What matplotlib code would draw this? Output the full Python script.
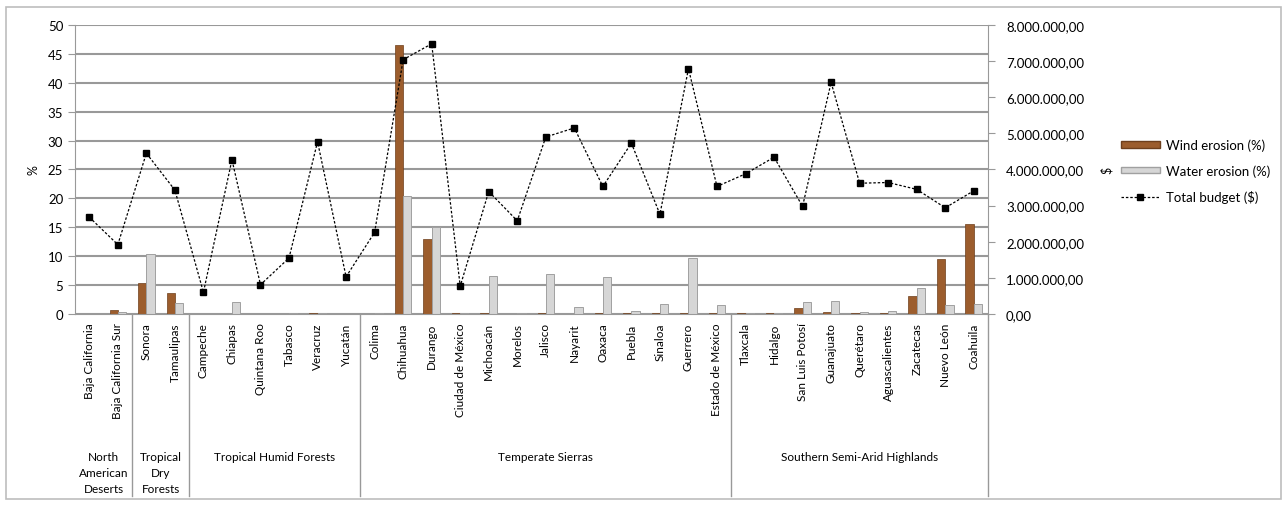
import matplotlib
matplotlib.use('Agg')
import matplotlib.pyplot as plt
from matplotlib.patches import Rectangle, Patch
from matplotlib.lines import Line2D
import numpy as np

plt.rcParams['font.family'] = ['Lato', 'DejaVu Sans']

states = ['Baja California', 'Baja California Sur', 'Sonora', 'Tamaulipas',
          'Campeche', 'Chiapas', 'Quintana Roo', 'Tabasco', 'Veracruz', 'Yucatán',
          'Colima', 'Chihuahua', 'Durango', 'Ciudad de México', 'Michoacán',
          'Morelos', 'Jalisco', 'Nayarit', 'Oaxaca', 'Puebla', 'Sinaloa',
          'Guerrero', 'Estado de México',
          'Tlaxcala', 'Hidalgo', 'San Luis Potosí', 'Guanajuato', 'Querétaro',
          'Aguascalientes', 'Zacatecas', 'Nuevo León', 'Coahuila']

wind = [0, 0.7, 5.3, 3.7,
        0, 0, 0, 0, 0.1, 0,
        0, 46.5, 13.0, 0.1, 0.1, 0, 0.1, 0, 0.1, 0.1, 0.1, 0.1, 0.2,
        0.1, 0.1, 1.0, 0.3, 0.1, 0.1, 3.1, 9.5, 15.5]

water = [0, 0.3, 10.3, 1.9,
         0, 2.1, 0, 0.1, 0.2, 0,
         0.1, 20.5, 15.0, 0.1, 6.6, 0.1, 6.9, 1.2, 6.4, 0.6, 1.8, 9.7, 1.6,
         0.1, 0.2, 2.0, 2.3, 0.4, 0.5, 4.5, 1.6, 1.8]

budget = [2.68e6, 1.92e6, 4.45e6, 3.43e6,
          0.60e6, 4.27e6, 0.81e6, 1.55e6, 4.77e6, 1.03e6,
          2.26e6, 7.04e6, 7.48e6, 0.77e6, 3.39e6, 2.58e6, 4.90e6, 5.15e6,
          3.53e6, 4.73e6, 2.76e6, 6.79e6, 3.53e6,
          3.88e6, 4.34e6, 2.98e6, 6.41e6, 3.62e6, 3.64e6, 3.45e6, 2.94e6, 3.41e6]

groups = ['North\nAmerican\nDeserts', 'Tropical\nDry\nForests', 'Tropical Humid Forests',
          'Temperate Sierras', 'Southern Semi-Arid Highlands']
group_sizes = [2, 2, 6, 13, 9]

right_ticks = [0, 1e6, 2e6, 3e6, 4e6, 5e6, 6e6, 7e6, 8e6]
right_labels = ['0,00', '1.000.000,00', '2.000.000,00', '3.000.000,00', '4.000.000,00',
                '5.000.000,00', '6.000.000,00', '7.000.000,00', '8.000.000,00']

fig = plt.figure(figsize=(12.87, 5.06), dpi=100)
fig.patches.append(Rectangle((0.005, 0.012), 0.99, 0.972, transform=fig.transFigure,
                             fill=False, edgecolor='#bdbdbd', linewidth=1.2))

ax = fig.add_axes([0.0583, 0.3775, 0.7094, 0.5711])
x = np.arange(len(states))
wind_col = '#9c5d2d'
water_col = '#d6d6d6'

ax.set_axisbelow(True)
ax.yaxis.grid(True, color='#999999', linewidth=1.5)
ax.bar(x - 0.145, wind, 0.29, color=wind_col, edgecolor='#6e3f1c', linewidth=0.5, zorder=2)
ax.bar(x + 0.145, water, 0.29, color=water_col, edgecolor='#a0a0a0', linewidth=0.7, zorder=2)
ax.set_xlim(-0.5, len(states) - 0.5)
ax.set_ylim(0, 50)
ax.set_yticks(range(0, 51, 5))
ax.set_xticks(x)
ax.set_xticklabels(states, rotation=90, fontsize=8.5)
ax.tick_params(axis='x', length=0, pad=6)
ax.tick_params(axis='y', labelsize=9.5, length=5, color='#999999')
ax.set_ylabel('%', fontsize=9, labelpad=6)
ax.spines['top'].set_visible(False)
ax.spines['right'].set_visible(False)
ax.spines['left'].set_color('#999999')
ax.spines['bottom'].set_color('#999999')

ax2 = ax.twinx()
ax2.plot(x, budget, color='black', linestyle=(0, (2, 1.5)), linewidth=0.9,
         marker='s', markersize=5, markerfacecolor='black', zorder=3)
ax2.set_ylim(0, 8e6)
ax2.set_yticks(right_ticks)
ax2.set_yticklabels(right_labels)
ax2.tick_params(axis='y', labelsize=9.5, length=5, color='#999999', pad=8)
ax2.set_ylabel('$', fontsize=9, labelpad=12)
ax2.spines['top'].set_visible(False)
ax2.spines['left'].set_visible(False)
ax2.spines['bottom'].set_visible(False)
ax2.spines['right'].set_color('#999999')

# group separators and labels under the state names
trans = ax.get_xaxis_transform()
start = 0
for i in range(len(groups)):
    end = start + group_sizes[i]
    if i > 0:
        ax.plot([start - 0.5, start - 0.5], [0, -0.63], transform=trans, clip_on=False,
                color='#999999', linewidth=1)
    ax.text((start + end - 1) / 2.0, -0.475, groups[i], transform=trans, ha='center', va='top',
            fontsize=8.5, linespacing=1.55)
    start = end
ax.plot([len(states) - 0.5, len(states) - 0.5], [0, -0.63], transform=trans, clip_on=False,
        color='#999999', linewidth=1)

handles = [Patch(facecolor=wind_col, edgecolor='#6e3f1c'),
           Patch(facecolor=water_col, edgecolor='#a0a0a0'),
           Line2D([0], [0], color='black', linestyle=(0, (2, 1.5)), linewidth=0.9,
                  marker='s', markersize=5)]
fig.legend(handles, ['Wind erosion (%)', 'Water erosion (%)', 'Total budget ($)'],
           loc='center left', bbox_to_anchor=(0.862, 0.66), frameon=False, fontsize=9.5,
           handlelength=2.9, handleheight=0.35, labelspacing=1.0, handletextpad=0.5)

plt.savefig('out.png', dpi=100)
plt.close()
